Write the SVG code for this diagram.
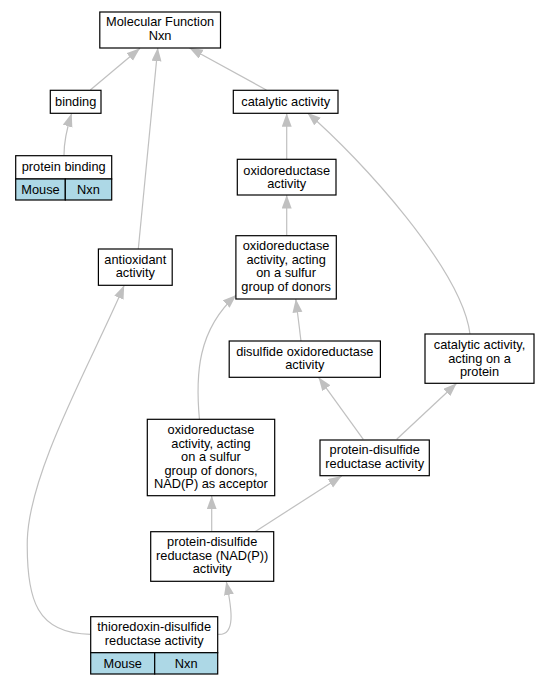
<svg xmlns="http://www.w3.org/2000/svg" width="548" height="685" viewBox="0 0 548 685">
<style>
.box{fill:#ffffff;stroke:#000000;stroke-width:1.2}
.cell{fill:#add8e6;stroke:#000000;stroke-width:1.2}
text{font-family:"Liberation Sans",Arial,sans-serif;font-size:12.8px;fill:#000000;text-anchor:middle}
.edge{fill:none;stroke:#c0c0c0;stroke-width:1.2}
</style>
<defs>
<marker id="ah" markerUnits="userSpaceOnUse" markerWidth="15" markerHeight="11" refX="13.5" refY="5" orient="auto">
<path d="M0,0 L13.5,5 L0,10 z" fill="#c0c0c0"/>
</marker>
</defs>
<rect width="548" height="685" fill="#ffffff"/>
<g id="connectors">
<path class="edge" marker-end="url(#ah)" d="M90.3,90 L140,48.3"/>
<path class="edge" marker-end="url(#ah)" d="M266.4,90 L189.3,47.7"/>
<path class="edge" marker-end="url(#ah)" d="M138.3,249 L157.8,47.7"/>
<path class="edge" marker-end="url(#ah)" d="M64,155 C64,140 67,128 71.7,113.3"/>
<path class="edge" marker-end="url(#ah)" d="M286.7,159.3 L286.7,113.3"/>
<path class="edge" marker-end="url(#ah)" d="M470,334 C462,270 362,160 307.3,112.7"/>
<path class="edge" marker-end="url(#ah)" d="M286.7,235.7 L286.7,195"/>
<path class="edge" marker-end="url(#ah)" d="M301,341 L295.8,299"/>
<path class="edge" marker-end="url(#ah)" d="M199.5,420 C195.3,375 197.4,330 236.3,295"/>
<path class="edge" marker-end="url(#ah)" d="M363.3,439.3 L318.5,377.3"/>
<path class="edge" marker-end="url(#ah)" d="M396.7,439.3 L456.7,383.3"/>
<path class="edge" marker-end="url(#ah)" d="M211.7,531.7 L211.7,495.7"/>
<path class="edge" marker-end="url(#ah)" d="M255,531.7 L341.7,476"/>
<path class="edge" marker-end="url(#ah)" d="M217.7,634.3 C236,636 232,610 226.3,581.5"/>
<path class="edge" marker-end="url(#ah)" d="M90.6,634.3 C36.8,634 26.3,600 27.3,540 C29.4,470 92.4,360 124.2,285.3"/>
</g>
<g id="mf">
<rect class="box" x="99.8" y="12" width="120.7" height="36"/>
<text x="160.1" y="26">Molecular Function</text>
<text x="160.1" y="39.5">Nxn</text>
</g>
<g id="binding">
<rect class="box" x="50.3" y="90.3" width="50.7" height="23"/>
<text x="75.7" y="105.5">binding</text>
</g>
<g id="catalytic">
<rect class="box" x="233.3" y="90.3" width="104.7" height="23"/>
<text x="285.7" y="105.5">catalytic activity</text>
</g>
<g id="protein_binding">
<rect class="box" x="15.7" y="155.7" width="96" height="23.3"/>
<text x="63.7" y="171">protein binding</text>
<rect class="cell" x="15.7" y="179" width="49.6" height="21"/>
<rect class="cell" x="65.3" y="179" width="46.4" height="21"/>
<text x="40.5" y="193.5">Mouse</text>
<text x="88.5" y="193.5">Nxn</text>
</g>
<g id="oxidoreductase">
<rect class="box" x="237.3" y="159.3" width="98.7" height="35.7"/>
<text x="286.7" y="174.5">oxidoreductase</text>
<text x="286.7" y="188">activity</text>
</g>
<g id="antioxidant">
<rect class="box" x="98.4" y="249" width="73.8" height="36.3"/>
<text x="135.3" y="263.5">antioxidant</text>
<text x="135.3" y="277">activity</text>
</g>
<g id="oxido_sulfur">
<rect class="box" x="235.9" y="235.7" width="100.4" height="63.3"/>
<text x="286.1" y="250">oxidoreductase</text>
<text x="286.1" y="263.5">activity, acting</text>
<text x="286.1" y="277">on a sulfur</text>
<text x="286.1" y="290.5">group of donors</text>
</g>
<g id="disulfide_oxido">
<rect class="box" x="229.2" y="341" width="151.2" height="36.3"/>
<text x="304.8" y="355.5">disulfide oxidoreductase</text>
<text x="304.8" y="369">activity</text>
</g>
<g id="catalytic_protein">
<rect class="box" x="425" y="334" width="109" height="49.3"/>
<text x="479.5" y="349">catalytic activity,</text>
<text x="479.5" y="362.5">acting on a</text>
<text x="479.5" y="376">protein</text>
</g>
<g id="oxido_sulfur_nadp">
<rect class="box" x="147.3" y="419.3" width="127.4" height="76.4"/>
<text x="211" y="434">oxidoreductase</text>
<text x="211" y="447.5">activity, acting</text>
<text x="211" y="461">on a sulfur</text>
<text x="211" y="474.5">group of donors,</text>
<text x="211" y="488">NAD(P) as acceptor</text>
</g>
<g id="pdr">
<rect class="box" x="320" y="440" width="109.3" height="35.7"/>
<text x="374.7" y="454">protein-disulfide</text>
<text x="374.7" y="467.5">reductase activity</text>
</g>
<g id="pdr_nadp">
<rect class="box" x="150.7" y="531.7" width="123" height="49.6"/>
<text x="212.2" y="546">protein-disulfide</text>
<text x="212.2" y="559.5">reductase (NAD(P))</text>
<text x="212.2" y="573">activity</text>
</g>
<g id="thioredoxin">
<rect class="box" x="90.7" y="616.7" width="127" height="36"/>
<text x="154.2" y="631">thioredoxin-disulfide</text>
<text x="154.2" y="644.5">reductase activity</text>
<rect class="cell" x="90.7" y="652.7" width="64" height="21.3"/>
<rect class="cell" x="154.7" y="652.7" width="63" height="21.3"/>
<text x="122.7" y="667.5">Mouse</text>
<text x="186.2" y="667.5">Nxn</text>
</g>
</svg>
